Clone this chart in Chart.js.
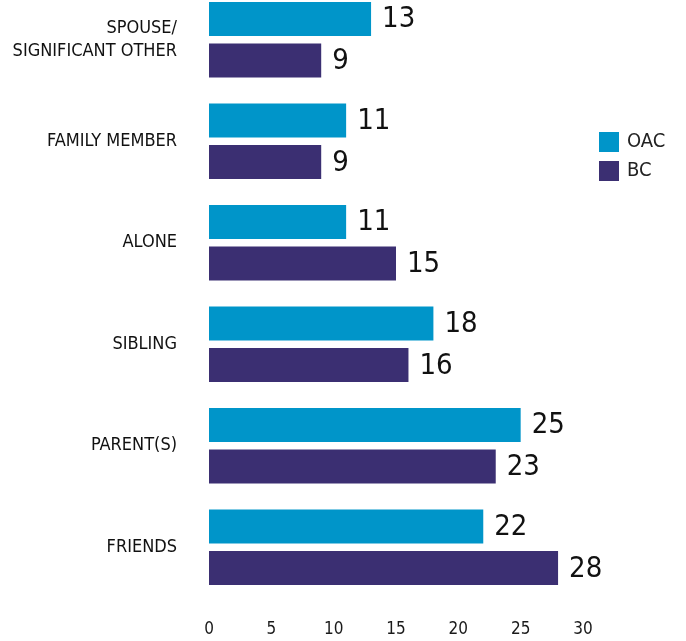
<!DOCTYPE html>
<html>
<head>
<meta charset="utf-8">
<script src="https://cdn.jsdelivr.net/npm/chart.js@4.4.1/dist/chart.umd.min.js"></script>
<style>
  html, body { margin: 0; padding: 0; background: #fff; overflow: hidden; }
  #chart { position: absolute; left: 0; top: -11px; }
</style>
</head>
<body>
<canvas id="chart" width="686" height="652"></canvas>
<script>
// categories, top to bottom
const categories = [
  ["SPOUSE/", "SIGNIFICANT OTHER"],
  "FAMILY MEMBER",
  "ALONE",
  "SIBLING",
  "PARENT(S)",
  "FRIENDS"
];
const seriesNames = ["OAC", "BC"];
const oacValues = [13, 11, 11, 18, 25, 22];
const bcValues = [9, 9, 15, 16, 23, 28];
const xTicks = [0, 5, 10, 15, 20, 25, 30];

const BLUE = "#0095c9";
const PURPLE = "#3b2f72";
const FONT = "'DejaVu Sans Condensed', 'DejaVu Sans', sans-serif";

// value labels at the end of each bar
const valueLabels = {
  id: "valueLabels",
  afterDatasetsDraw(chart) {
    const ctx = chart.ctx;
    ctx.save();
    ctx.font = "29px " + FONT;
    ctx.fillStyle = "#111";
    ctx.textAlign = "left";
    ctx.textBaseline = "middle";
    chart.data.datasets.forEach((ds, i) => {
      chart.getDatasetMeta(i).data.forEach((bar, j) => {
        ctx.fillText(ds.data[j], bar.x + 11, bar.y + 1);
      });
    });
    ctx.restore();
  }
};

// legend at the right side, beside the upper groups
const sideLegend = {
  id: "sideLegend",
  afterDraw(chart) {
    const ctx = chart.ctx;
    const x = chart.chartArea.right + 16;
    let y = 143;
    ctx.save();
    ctx.font = "20px " + FONT;
    ctx.textBaseline = "middle";
    chart.data.datasets.forEach(ds => {
      ctx.fillStyle = ds.backgroundColor;
      ctx.fillRect(x, y, 20, 20);
      ctx.fillStyle = "#222";
      ctx.fillText(ds.label, x + 28, y + 10);
      y += 29;
    });
    ctx.restore();
  }
};

new Chart(document.getElementById("chart"), {
  type: "bar",
  data: {
    labels: categories,
    datasets: [
      { label: seriesNames[0], data: oacValues, backgroundColor: BLUE,
        categoryPercentage: 0.82, barPercentage: 0.82 },
      { label: seriesNames[1], data: bcValues, backgroundColor: PURPLE,
        categoryPercentage: 0.82, barPercentage: 0.82 }
    ]
  },
  options: {
    indexAxis: "y",
    responsive: false,
    animation: false,
    layout: { padding: { left: 0, right: 103, top: 0, bottom: 0 } },
    plugins: {
      legend: { display: false },
      tooltip: { enabled: false }
    },
    scales: {
      x: {
        min: 0,
        max: 30,
        afterBuildTicks: scale => { scale.ticks = xTicks.map(v => ({ value: v })); },
        afterFit: scale => { scale.height = 43; },
        grid: { display: false, drawTicks: false },
        border: { display: false },
        ticks: {
          padding: 21,
          color: "#1a1a1a",
          font: { family: FONT, size: 17 }
        }
      },
      y: {
        afterFit: scale => {
          scale.width = 209;
          scale.paddingTop = 0;
          scale.paddingBottom = 0;
        },
        grid: { display: false, drawTicks: false },
        border: { display: false },
        ticks: {
          padding: 32,
          color: "#111",
          font: { family: FONT, size: 18, lineHeight: 1.28 }
        }
      }
    }
  },
  plugins: [valueLabels, sideLegend]
});
</script>
</body>
</html>
